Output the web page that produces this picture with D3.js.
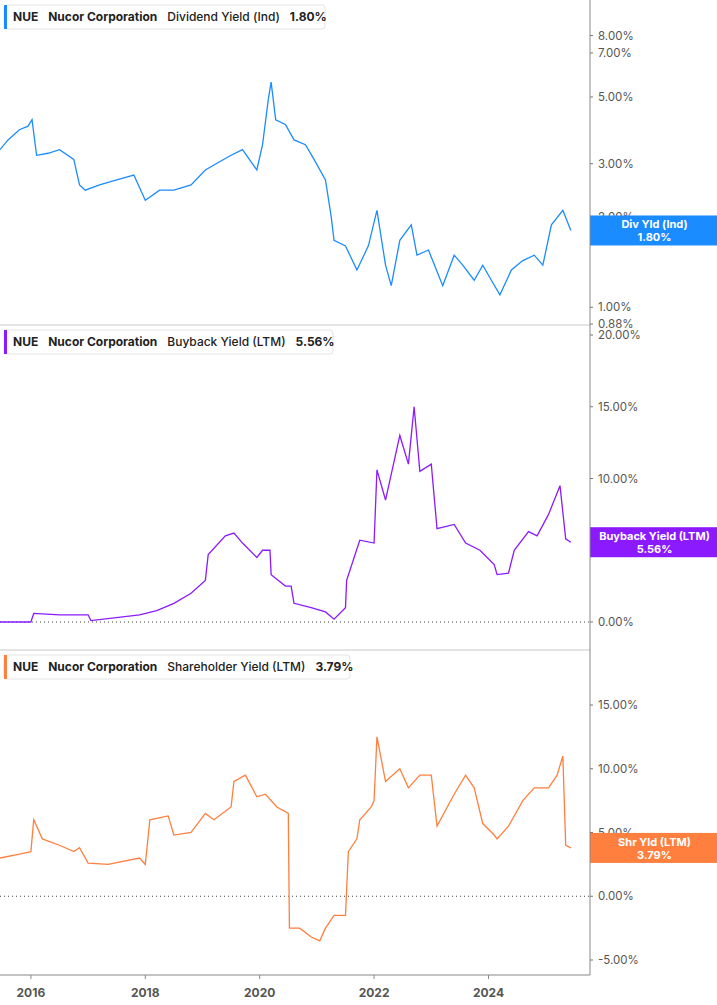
<!DOCTYPE html>
<html><head><meta charset="utf-8">
<script src="https://cdn.jsdelivr.net/npm/d3@7"></script>
<style>
body{margin:0;background:#fff;font-family:Inter,"Open Sans",sans-serif;}
text{font-family:Inter,"Open Sans",sans-serif;}
</style></head>
<body><div id="chart"></div>
<script>
// dates in decimal years, values in %
var divDates = [2015.46,2015.6,2015.8,2015.95,2016.02,2016.1,2016.3,2016.5,2016.75,2016.85,2016.95,2017.2,2017.5,2017.8,2018.0,2018.25,2018.5,2018.8,2019.05,2019.2,2019.5,2019.7,2019.95,2020.05,2020.15,2020.2,2020.28,2020.45,2020.6,2020.8,2020.95,2021.15,2021.25,2021.3,2021.5,2021.7,2021.9,2022.05,2022.2,2022.3,2022.45,2022.65,2022.75,2022.95,2023.2,2023.4,2023.55,2023.75,2023.9,2024.05,2024.2,2024.4,2024.6,2024.8,2024.95,2025.1,2025.3,2025.4,2025.44];
var divValues = [3.34,3.6,3.89,4.0,4.2,3.2,3.25,3.34,3.1,2.55,2.45,2.55,2.65,2.75,2.27,2.45,2.45,2.55,2.86,2.97,3.2,3.34,2.86,3.47,4.9,5.6,4.2,4.05,3.6,3.47,3.1,2.65,2.0,1.67,1.6,1.33,1.6,2.1,1.38,1.18,1.67,1.88,1.49,1.55,1.18,1.49,1.38,1.23,1.38,1.23,1.1,1.33,1.43,1.49,1.38,1.88,2.1,1.88,1.80];

var bbDates = [2015.46,2016.0,2016.05,2016.5,2017.0,2017.05,2017.9,2018.2,2018.5,2018.8,2019.05,2019.1,2019.4,2019.55,2019.7,2019.95,2020.05,2020.18,2020.2,2020.45,2020.55,2020.6,2020.9,2021.15,2021.3,2021.5,2021.52,2021.75,2022.0,2022.05,2022.2,2022.45,2022.6,2022.7,2022.8,2023.0,2023.1,2023.4,2023.6,2023.85,2024.1,2024.15,2024.35,2024.45,2024.7,2024.85,2025.05,2025.25,2025.35,2025.44];
var bbValues = [0.0,0.0,0.6,0.5,0.5,0.1,0.5,0.8,1.3,2.0,2.9,4.7,6.0,6.2,5.5,4.5,5.0,5.0,3.3,2.5,2.5,1.3,1.0,0.7,0.2,1.0,2.9,5.7,5.5,10.6,8.5,13.0,11.0,15.0,10.5,11.0,6.5,6.8,5.5,5.0,4.0,3.3,3.4,5.0,6.3,6.0,7.5,9.5,5.8,5.56];

var shrDates = [2015.46,2015.8,2016.0,2016.05,2016.2,2016.5,2016.75,2016.85,2017.0,2017.35,2017.9,2018.0,2018.08,2018.4,2018.5,2018.8,2019.05,2019.2,2019.5,2019.55,2019.75,2019.95,2020.1,2020.3,2020.5,2020.52,2020.7,2020.9,2021.05,2021.15,2021.3,2021.5,2021.55,2021.7,2021.75,2021.95,2022.0,2022.05,2022.2,2022.45,2022.6,2022.8,2023.0,2023.1,2023.4,2023.6,2023.75,2023.9,2024.1,2024.15,2024.35,2024.6,2024.8,2025.05,2025.2,2025.3,2025.35,2025.44];
var shrValues = [3.0,3.3,3.5,6.0,4.5,4.0,3.5,3.8,2.6,2.5,3.0,2.5,6.0,6.3,4.8,5.0,6.5,6.0,7.0,9.0,9.5,7.8,8.0,7.0,6.5,-2.5,-2.5,-3.2,-3.5,-2.5,-1.5,-1.5,3.5,4.5,6.0,7.0,7.5,12.5,9.0,10.0,8.5,9.5,9.5,5.5,8.0,9.5,8.5,5.7,4.8,4.5,5.5,7.5,8.5,8.5,9.5,11.0,4.0,3.79];

var yearTicks = [2016,2018,2020,2022,2024];
var divTicks = [0.88,1,2,3,5,7,8];
var bbTicks = [0,5,10,15,20];
var shrTicks = [-5,0,5,10,15];

var W = 717, H = 1005, axisX = 590, bottom = 975;
var svg = d3.select("#chart").append("svg").attr("width", W).attr("height", H);

var x = d3.scaleLinear().domain([2015.46, 2015.46 + 590 / 57.2]).range([0, axisX]);

var panels = [
  {dates: divDates, values: divValues, ticks: divTicks, color: "#1a8cff", top: 0, bot: 324,
   y: d3.scaleLog().domain([0.88, 10.5]).range([324, 0]),
   title: "Dividend Yield (Ind)", badge: "Div Yld (Ind)", last: "1.80%", zero: false, hw: 325},
  {dates: bbDates, values: bbValues, ticks: bbTicks, color: "#8b1aff", top: 325, bot: 650,
   y: d3.scaleLinear().domain([0, 20]).range([622, 335]),
   title: "Buyback Yield (LTM)", badge: "Buyback Yield (LTM)", last: "5.56%", zero: true, hw: 333},
  {dates: shrDates, values: shrValues, ticks: shrTicks, color: "#ff7f3f", top: 650, bot: 975,
   y: d3.scaleLinear().domain([-5, 15]).range([960, 705]),
   title: "Shareholder Yield (LTM)", badge: "Shr Yld (LTM)", last: "3.79%", zero: true, hw: 350}
];

panels.forEach(function(p, i) {
  var g = svg.append("g");
  var clip = "clip" + i;
  svg.append("clipPath").attr("id", clip).append("rect")
    .attr("x", 0).attr("y", p.top).attr("width", axisX).attr("height", p.bot - p.top);

  if (i > 0) {
    g.append("line").attr("x1", 0).attr("x2", axisX).attr("y1", p.top).attr("y2", p.top)
      .attr("stroke", "#c8c8c8");
  }

  if (p.zero) {
    g.append("line").attr("x1", 0).attr("x2", axisX).attr("y1", p.y(0)).attr("y2", p.y(0))
      .attr("stroke", "#444").attr("stroke-dasharray", "1,3");
  }

  // ticks
  p.ticks.forEach(function(t) {
    var ty = p.y(t);
    g.append("line").attr("x1", axisX).attr("x2", axisX + 3).attr("y1", ty).attr("y2", ty).attr("stroke", "#777");
    g.append("text").attr("x", axisX + 8).attr("y", ty + 4).attr("font-size", 11.5).attr("fill", "#555")
      .text(t.toFixed(2) + "%");
  });

  var line = d3.line()
    .x(function(d, j) { return x(p.dates[j]); })
    .y(function(d) { return p.y(d); });

  g.append("path").datum(p.values)
    .attr("clip-path", "url(#" + clip + ")")
    .attr("d", line).attr("fill", "none").attr("stroke", p.color).attr("stroke-width", 1.3);

  // value badge
  var ly = p.y(p.values[p.values.length - 1]);
  g.append("rect").attr("x", axisX).attr("y", ly - 15).attr("width", W - axisX).attr("height", 30).attr("fill", p.color);
  g.append("text").attr("x", (axisX + W) / 2 + 1).attr("y", ly - 2).attr("text-anchor", "middle")
    .attr("font-size", 11).attr("font-weight", "bold").attr("fill", "#fff").text(p.badge);
  g.append("text").attr("x", (axisX + W) / 2 + 1).attr("y", ly + 11).attr("text-anchor", "middle")
    .attr("font-size", 11).attr("font-weight", "bold").attr("fill", "#fff").text(p.last);

  // header
  var hy = p.top + 5;
  g.append("rect").attr("x", 4).attr("y", hy).attr("width", p.hw - 4).attr("height", 24).attr("rx", 3)
    .attr("fill", "#fff").attr("stroke", "#e4e4e4");
  g.append("rect").attr("x", 4).attr("y", hy).attr("width", 3).attr("height", 24).attr("fill", p.color);
  var ht = g.append("text").attr("x", 13).attr("y", hy + 16).attr("font-size", 12).attr("fill", "#222");
  ht.append("tspan").attr("font-weight", "bold").text("NUE");
  ht.append("tspan").attr("dx", 10).attr("font-weight", "bold").text("Nucor Corporation");
  ht.append("tspan").attr("dx", 10).attr("font-weight", 500).text(p.title);
  ht.append("tspan").attr("dx", 10).attr("font-weight", "bold").text(p.last);
});

// frame
svg.append("line").attr("x1", axisX).attr("x2", axisX).attr("y1", 0).attr("y2", bottom).attr("stroke", "#888");
svg.append("line").attr("x1", 0).attr("x2", axisX).attr("y1", bottom).attr("y2", bottom).attr("stroke", "#888");

yearTicks.forEach(function(yr) {
  svg.append("line").attr("x1", x(yr)).attr("x2", x(yr)).attr("y1", bottom).attr("y2", bottom + 4).attr("stroke", "#888");
  svg.append("text").attr("x", x(yr)).attr("y", bottom + 22).attr("text-anchor", "middle")
    .attr("font-size", 12).attr("font-weight", "bold").attr("fill", "#555").text(yr);
});
</script>
</body></html>
